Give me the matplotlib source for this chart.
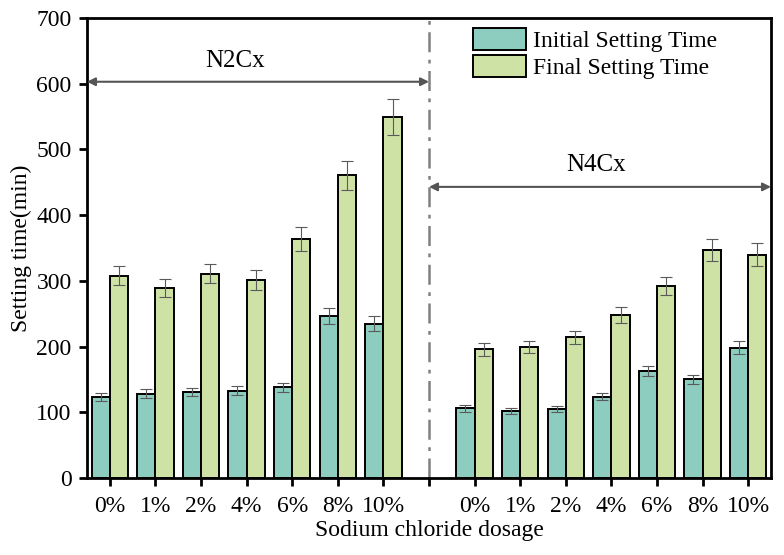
import numpy as np
import matplotlib
matplotlib.use("Agg")
import matplotlib.pyplot as plt

plt.rcParams['font.family'] = ['Liberation Serif', 'DejaVu Serif']

dosages = ["0%", "1%", "2%", "4%", "6%", "8%", "10%"]
n2_initial = [123, 128, 131, 133, 138, 247, 235]
n2_initial_err = [6, 7, 6, 7, 7, 12, 11]
n2_final = [308, 289, 311, 301, 364, 461, 549]
n2_final_err = [15, 14, 15, 15, 18, 22, 27]
n4_initial = [106, 102, 105, 124, 163, 150, 198]
n4_initial_err = [5, 5, 4, 6, 8, 7, 10]
n4_final = [196, 199, 214, 248, 292, 347, 340]
n4_final_err = [10, 9, 10, 12, 14, 17, 17]

teal = "#8ccdbf"
green = "#cfe2a6"

fig = plt.figure(figsize=(7.84, 5.55), dpi=100)
ax = fig.add_axes([87/784, 1-478/555, (771-87)/784, (478-18)/555])

n = len(dosages)
x_n2 = np.arange(n)
x_n4 = np.arange(n) + n + 1
w = 0.4
ekw = dict(ecolor="#5a5a5a", elinewidth=0.8, capsize=4, capthick=0.8)

ax.bar(x_n2 - w/2, n2_initial, w, color=teal, edgecolor="black", linewidth=1.4,
       yerr=n2_initial_err, error_kw=ekw, label="Initial Setting Time", zorder=2)
ax.bar(x_n2 + w/2, n2_final, w, color=green, edgecolor="black", linewidth=1.4,
       yerr=n2_final_err, error_kw=ekw, label="Final Setting Time", zorder=2)
ax.bar(x_n4 - w/2, n4_initial, w, color=teal, edgecolor="black", linewidth=1.4,
       yerr=n4_initial_err, error_kw=ekw, zorder=2)
ax.bar(x_n4 + w/2, n4_final, w, color=green, edgecolor="black", linewidth=1.4,
       yerr=n4_final_err, error_kw=ekw, zorder=2)

ax.set_xlim(-0.5, 2*n + 0.5)
ax.set_ylim(0, 700)
ax.set_yticks(np.arange(0, 701, 100))
xt = list(x_n2) + [n] + list(x_n4)
ax.set_xticks(xt)
ax.set_xticklabels(dosages + [""] + dosages)

# divider
ax.axvline(n, color="#808080", linestyle=(0, (8, 3, 1.5, 3)), linewidth=1.8, zorder=1)

# group arrows
ax.annotate("", xy=(-0.5, 603), xytext=(n, 603),
            arrowprops=dict(arrowstyle="<|-|>", color="#555555", lw=1.5,
                            mutation_scale=12, shrinkA=0, shrinkB=0))
ax.text(2.74, 634, "N2Cx", ha="center", va="center", fontsize=18)
ax.annotate("", xy=(n, 443), xytext=(2*n + 0.5, 443),
            arrowprops=dict(arrowstyle="<|-|>", color="#555555", lw=1.5,
                            mutation_scale=12, shrinkA=0, shrinkB=0))
ax.text(10.66, 476, "N4Cx", ha="center", va="center", fontsize=18)

for s in ax.spines.values():
    s.set_linewidth(2)
ax.tick_params(axis="both", direction="out", length=6, width=2, labelsize=17)
ax.tick_params(axis="x", pad=7)
ax.tick_params(axis="y", pad=5)

ax.set_ylabel("Setting time(min)", fontsize=17, labelpad=3)
ax.set_xlabel("Sodium chloride dosage", fontsize=17, labelpad=2)

leg = ax.legend(loc="upper left", bbox_to_anchor=(0.564, 0.978), frameon=False,
                fontsize=17, handlelength=2.25, handleheight=1.05,
                labelspacing=0.12, handletextpad=0.3, borderpad=0.0,
                borderaxespad=0.0)
for p in leg.get_patches():
    p.set_edgecolor("black")
    p.set_linewidth(1.4)

fig.savefig("out.png", dpi=100)
